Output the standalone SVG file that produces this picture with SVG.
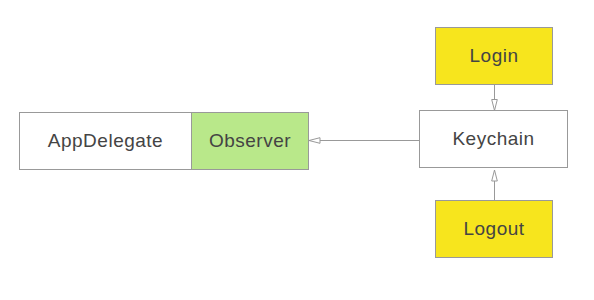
<svg xmlns="http://www.w3.org/2000/svg" width="594" height="300" viewBox="0 0 594 300">
<style>
.box{stroke:#999;stroke-width:1}
.t{font-family:"Liberation Sans",Arial,sans-serif;font-size:19px;letter-spacing:0.5px;fill:#444;text-anchor:middle;dominant-baseline:central}
.edge{stroke:#999;stroke-width:1;fill:none}
</style>
<defs>
<marker id="tri" viewBox="0 0 12 8" refX="11.5" refY="4" markerWidth="12" markerHeight="8" markerUnits="userSpaceOnUse" orient="auto">
<path d="M0.5,1.2 L11.5,4 L0.5,6.8 Z" fill="#fff" stroke="#999" stroke-width="1"/>
</marker>
</defs>
<rect width="594" height="300" fill="#fff"/>
<g id="connectors">
<line class="edge" x1="419.5" y1="140.5" x2="309" y2="140.5" marker-end="url(#tri)"/>
<line class="edge" x1="494.5" y1="84.5" x2="494.5" y2="110.5" marker-end="url(#tri)"/>
<line class="edge" x1="494.5" y1="200.5" x2="494.5" y2="170" marker-end="url(#tri)"/>
</g>
<g id="AppDelegate">
<rect class="box" x="19.5" y="112.5" width="172" height="57" fill="#fff"/>
<text class="t" x="105.5" y="140">AppDelegate</text>
</g>
<g id="Observer">
<rect class="box" x="191.5" y="112.5" width="117" height="57" fill="#b9e88a"/>
<text class="t" x="250" y="140">Observer</text>
</g>
<g id="Keychain">
<rect class="box" x="419.5" y="110.5" width="148" height="57" fill="#fff"/>
<text class="t" x="493.5" y="138">Keychain</text>
</g>
<g id="Login">
<rect class="box" x="435.5" y="27.5" width="117" height="57" fill="#f7e51d"/>
<text class="t" x="494" y="55">Login</text>
</g>
<g id="Logout">
<rect class="box" x="435.5" y="200.5" width="117" height="57" fill="#f7e51d"/>
<text class="t" x="494" y="228">Logout</text>
</g>
</svg>
